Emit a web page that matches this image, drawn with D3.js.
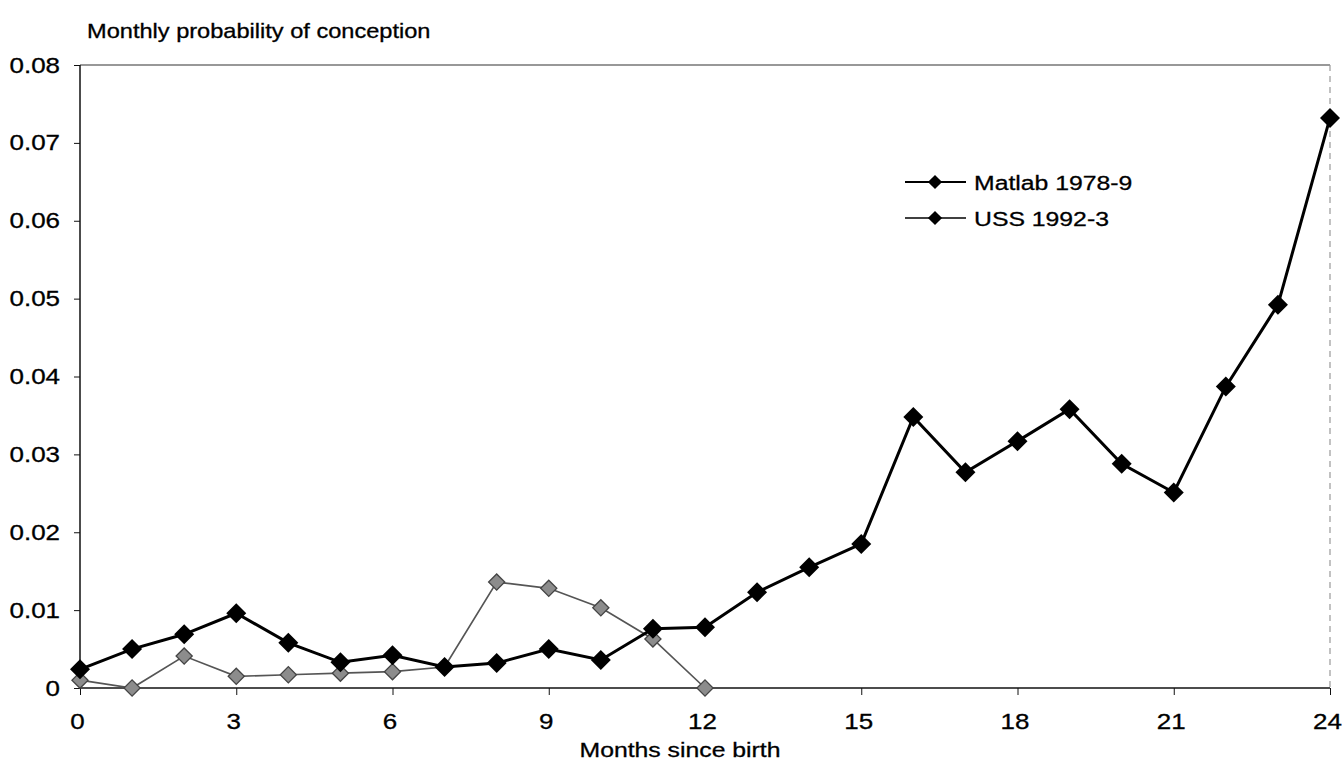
<!DOCTYPE html>
<html>
<head>
  <meta charset="utf-8">
  <title>Monthly probability of conception</title>
  <style>
    body { margin: 0; background: #fff; }
    svg text { font-family: "Liberation Sans", Arial, sans-serif; fill: #000; }
  </style>
</head>
<body>
<svg width="1344" height="782" class="svg-chart"></svg>
<script src="https://cdnjs.cloudflare.com/ajax/libs/d3/7.8.5/d3.min.js"></script>
<script type="text/javascript">
  // months since birth
  var months = [0, 1, 2, 3, 4, 5, 6, 7, 8, 9, 10, 11, 12, 13, 14, 15, 16, 17, 18, 19, 20, 21, 22, 23, 24]
  var matlab = [0.0024, 0.0050, 0.0069, 0.0096, 0.0058, 0.0033, 0.0042, 0.0027, 0.0032, 0.0050,
                0.0036, 0.0076, 0.0078, 0.0123, 0.0155, 0.0185, 0.0348, 0.0277, 0.0317, 0.0358,
                0.0288, 0.0251, 0.0387, 0.0492, 0.0732]
  var ussMonths = [0, 1, 2, 3, 4, 5, 6, 7, 8, 9, 10, 11, 12]
  var uss = [0.0010, 0.0000, 0.0041, 0.0015, 0.0017, 0.0019, 0.0021, 0.0027, 0.0136, 0.0128,
             0.0103, 0.0063, 0.0000]
  var xTicks = [0, 3, 6, 9, 12, 15, 18, 21, 24]
  var yTicks = [0, 0.01, 0.02, 0.03, 0.04, 0.05, 0.06, 0.07, 0.08]
  var seriesNames = ['Matlab 1978-9', 'USS 1992-3']

  var svg = d3.select('.svg-chart')
  var margin = {top: 65, right: 14, bottom: 94, left: 80}
  var width = +svg.attr('width')
  var height = +svg.attr('height')
  var stretch = 1.18   // the scanned lettering is wide

  var x = d3.scaleLinear().domain([0, 24]).range([margin.left, width - margin.right])
  var y = d3.scaleLinear().domain([0, 0.08]).range([height - margin.bottom, margin.top])

  function label(px, py, str, size, anchor) {
    svg.append('g')
      .attr('transform', 'translate(' + px + ',' + py + ') scale(' + stretch + ',1)')
      .append('text')
      .attr('text-anchor', anchor || 'start')
      .style('font-size', size + 'px')
      .attr('stroke', '#000').attr('stroke-width', 0.3)
      .text(str)
  }

  // frame: top and right edges
  svg.append('line')
    .attr('x1', x(0)).attr('x2', x(24))
    .attr('y1', y(0.08)).attr('y2', y(0.08))
    .attr('stroke', '#333').attr('stroke-width', 1.2)
  svg.append('line')
    .attr('x1', x(24)).attr('x2', x(24))
    .attr('y1', y(0.08)).attr('y2', y(0))
    .attr('stroke', '#999').attr('stroke-width', 1.2)
    .attr('stroke-dasharray', '6,5')

  // axes
  var xAxis = svg.append('g')
    .attr('transform', 'translate(0,' + y(0) + ')')
    .call(d3.axisBottom(x).tickValues(xTicks).tickSize(7).tickPadding(18).tickFormat(d3.format('d')))
  var yAxis = svg.append('g')
    .attr('transform', 'translate(' + x(0) + ',0)')
    .call(d3.axisLeft(y).tickValues(yTicks).tickSize(6).tickPadding(14)
      .tickFormat(function(d){ return d === 0 ? '0' : d3.format('.2f')(d) }))

  svg.selectAll('.domain').attr('stroke', '#111').attr('stroke-width', 1.5)
  svg.selectAll('.tick line').attr('stroke', '#111')
  svg.selectAll('.tick text').style('font-size', '22px').attr('fill', '#000')
    .attr('stroke', '#000').attr('stroke-width', 0.3)
    .attr('transform', 'scale(' + stretch + ',1)')
  xAxis.selectAll('text').attr('x', -3 / stretch)
  yAxis.selectAll('text').attr('x', -20 / stretch)
  xAxis.select('.domain').attr('d', 'M' + x(0) + ',0H' + x(24))
  yAxis.select('.domain').attr('d', 'M0,' + y(0.08) + 'V' + y(0))

  // lines
  var lineGen = d3.line()
    .x(function(d){ return x(d[0]) })
    .y(function(d){ return y(d[1]) })

  var ussData = ussMonths.map(function(m, i){ return [m, uss[i]] })
  var matlabData = months.map(function(m, i){ return [m, matlab[i]] })

  svg.append('path')
    .datum(ussData)
    .attr('d', lineGen)
    .attr('fill', 'none')
    .attr('stroke', '#555')
    .attr('stroke-width', 1.7)

  var ussSymbol = d3.symbol().type(d3.symbolSquare).size(130)
  svg.selectAll('.uss-pt')
    .data(ussData)
    .enter()
    .append('path')
    .attr('class', 'uss-pt')
    .attr('d', ussSymbol)
    .attr('transform', function(d){ return 'translate(' + x(d[0]) + ',' + y(d[1]) + ') rotate(45)' })
    .attr('fill', '#8c8c8c')
    .attr('stroke', '#444')
    .attr('stroke-width', 1.3)

  svg.append('path')
    .datum(matlabData)
    .attr('d', lineGen)
    .attr('fill', 'none')
    .attr('stroke', '#000')
    .attr('stroke-width', 3)

  var matlabSymbol = d3.symbol().type(d3.symbolSquare).size(200)
  svg.selectAll('.matlab-pt')
    .data(matlabData)
    .enter()
    .append('path')
    .attr('class', 'matlab-pt')
    .attr('d', matlabSymbol)
    .attr('transform', function(d){ return 'translate(' + x(d[0]) + ',' + y(d[1]) + ') rotate(45)' })
    .attr('fill', '#000')

  // legend
  var legendSymbol = d3.symbol().type(d3.symbolSquare).size(100)
  seriesNames.forEach(function(name, i){
    var ly = 182 + i * 36
    svg.append('line')
      .attr('x1', 905).attr('x2', 966)
      .attr('y1', ly).attr('y2', ly)
      .attr('stroke', '#000').attr('stroke-width', i === 0 ? 2 : 1.5)
    svg.append('path')
      .attr('d', legendSymbol)
      .attr('transform', 'translate(935,' + ly + ') rotate(45)')
      .attr('fill', '#000')
    label(974, ly + 8, name, 21)
  })

  // titles
  label(87, 38, 'Monthly probability of conception', 20)
  label(680, 757, 'Months since birth', 21, 'middle')
</script>
</body>
</html>
